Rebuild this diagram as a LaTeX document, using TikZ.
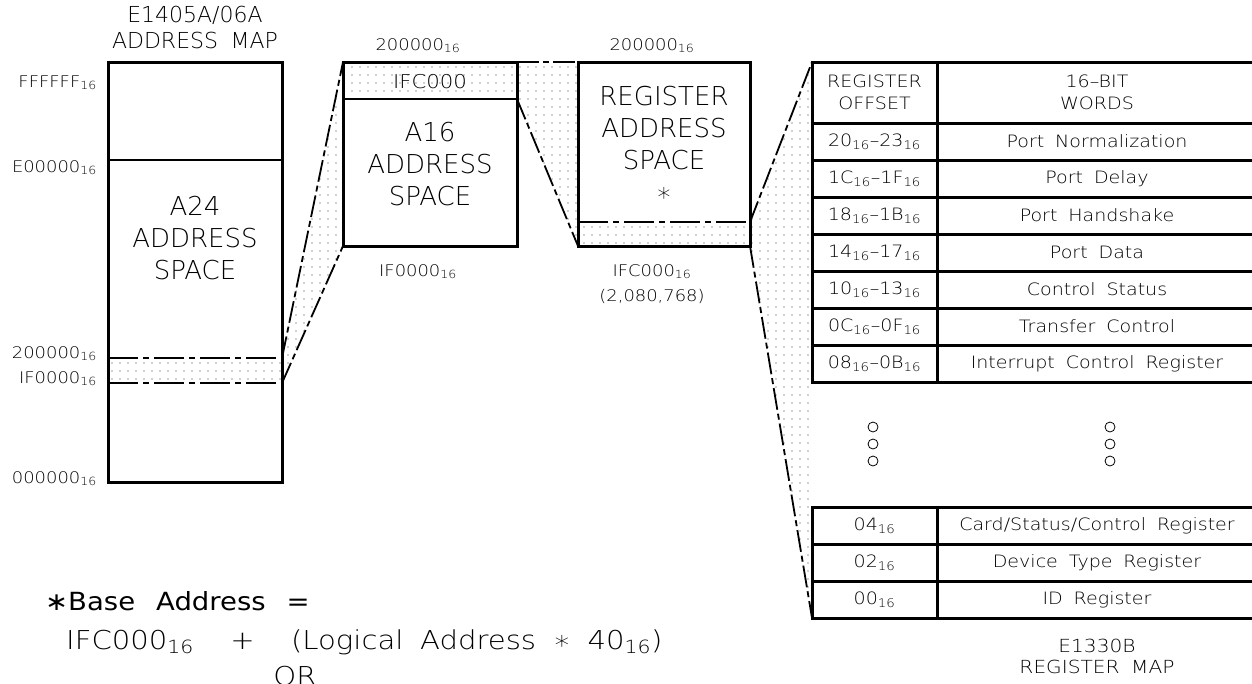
\documentclass[tikz,border=0pt]{standalone}
\usepackage{fontspec}
\setmainfont{DejaVu Sans}[UprightFont={* ExtraLight}, FakeStretch=1.12, WordSpace=1.8]
\newfontfamily\bigfont{DejaVu Sans}[UprightFont={* ExtraLight}, WordSpace=1.8]
\newfontfamily\notefont{DejaVu Sans}[FakeStretch=1.1, WordSpace=2.4]
\usetikzlibrary{patterns.meta,backgrounds}

\newcommand{\hexnum}[1]{#1\textsubscript{16}}

\tikzset{
  mapbox/.style={draw, line width=3pt, inner sep=0pt, outer sep=0pt},
  biglabel/.style={font=\bigfont\fontsize{26}{32}\selectfont, align=center},
  maptitle/.style={font=\bigfont\fontsize{22}{26}\selectfont, align=center},
  addr/.style={font=\fontsize{16}{19}\selectfont, inner sep=0pt},
  note/.style={font=\notefont\fontsize{25}{28}\selectfont, inner sep=0pt},
  formulanote/.style={font=\fontsize{26}{28}\selectfont, inner sep=0pt},
  bandfill/.style={pattern={Dots[distance=8pt,radius=0.65pt]}, pattern color=black!80},
  linkline/.style={line width=1.8pt, dash pattern=on 22pt off 4pt on 6pt off 4pt},
  bandrule/.style={line width=2.6pt, dash pattern=on 30pt off 5pt on 6pt off 5pt},
  thinrule/.style={line width=1.8pt},
  regcell/.style={draw, line width=3pt, inner sep=0pt, outer sep=0pt,
    minimum height=37pt, font=\fontsize{17}{20}\selectfont},
  offcell/.style={regcell, minimum width=125pt},
  wordcell/.style={regcell, minimum width=320pt},
  hdcell/.style={regcell, minimum height=61pt, align=center,
    font=\fontsize{17}{22}\selectfont}
}

\begin{document}
\begin{tikzpicture}[x=1pt, y=-1pt]
\useasboundingbox (0,0) rectangle (1252,683);
\clip (0,0) rectangle (1252,683);

% address spaces
\node[mapbox, minimum width=174pt, minimum height=420pt] (a24map) at (195,272) {};
\node[mapbox, minimum width=174pt, minimum height=184pt] (a16map) at (430,154) {};
\node[mapbox, minimum width=172pt, minimum height=184pt] (regspace) at (664,154) {};

\coordinate (a24hi) at (282,358);
\coordinate (a24lo) at (282,383);
\coordinate (a16split) at (517,99);
\coordinate (regband) at (750,222);

% register map table
\node[hdcell, minimum width=125pt, anchor=north west] (hdoff) at (812,62) {REGISTER\\OFFSET};
\node[hdcell, minimum width=320pt, anchor=west] (hdword) at (hdoff.east) {16--BIT\\WORDS};
\foreach \off/\wrd [count=\i] in {
    {\hexnum{20}--\hexnum{23}}/{Port Normalization},
    {\hexnum{1C}--\hexnum{1F}}/{Port Delay},
    {\hexnum{18}--\hexnum{1B}}/{Port Handshake},
    {\hexnum{14}--\hexnum{17}}/{Port Data},
    {\hexnum{10}--\hexnum{13}}/{Control Status},
    {\hexnum{0C}--\hexnum{0F}}/{Transfer Control},
    {\hexnum{08}--\hexnum{0B}}/{Interrupt Control Register}}{
  \node[offcell, anchor=north west] (off\i) at (812,{123+37*(\i-1)}) {\off};
  \node[wordcell, anchor=west] (wrd\i) at (off\i.east) {\wrd};
}
\foreach \off/\wrd [count=\i] in {
    {\hexnum{04}}/{Card/Status/Control Register},
    {\hexnum{02}}/{Device Type Register},
    {\hexnum{00}}/{ID Register}}{
  \node[offcell, anchor=north west] (loff\i) at (812,{507+37*(\i-1)}) {\off};
  \node[wordcell, anchor=west] (lwrd\i) at (loff\i.east) {\wrd};
}

% dotted bands
\begin{scope}[on background layer]
\fill[bandfill] (a24hi) -- (a16map.north west) -- (a16map.south west) -- (a24lo) -- cycle;
\fill[bandfill] (a24map.west |- a24hi) rectangle (a24lo);
\fill[bandfill] (a16map.north west) rectangle (a16split);
\fill[bandfill] (a16map.north east) -- (regspace.north west) -- (regspace.south west) -- (a16split) -- cycle;
\fill[bandfill] (regspace.west |- regband) rectangle (regspace.south east);
\fill[bandfill] (regband) -- (hdoff.north west) -- (loff3.south west) -- (regspace.south east) -- cycle;
\end{scope}

% rules inside the boxes
\draw[thinrule] (a24map.west |- 0,160) -- (a24map.east |- 0,160);
\draw[bandrule] (a24map.west |- a24hi) -- (a24hi);
\draw[bandrule] (a24map.west |- a24lo) -- (a24lo);
\draw[thinrule] (a16map.west |- a16split) -- (a16split);
\draw[bandrule] (regspace.west |- regband) -- (regband);

% connectors
\draw[linkline] (a24hi) -- (a16map.north west);
\draw[linkline] (a24lo) -- (a16map.south west);
\draw[linkline] (a16map.north east) -- (regspace.north west);
\draw[linkline] (a16split) -- (regspace.south west);
\draw[linkline] (regband) -- (hdoff.north west);
\draw[linkline] (regspace.south east) -- (loff3.south west);

% continuation marks
\foreach \cx in {873,1110}
  \foreach \cy in {427,444,461}
    \draw[line width=0.8pt] (\cx,\cy) circle (5pt);

% labels
\node[maptitle] (a24title) at (195,27) {E1405A/06A\\ADDRESS MAP};
\node[biglabel] (a24text) at (195,238) {A24\\ADDRESS\\SPACE};
\node[biglabel] (a16text) at (430,164) {A16\\ADDRESS\\SPACE};
\node[biglabel] (regtext) at (664,144) {REGISTER\\ADDRESS\\SPACE\\∗};
\node[font=\fontsize{19}{22}\selectfont] (a16base) at (430,82) {IFC000};

\node[addr, anchor=base east] (lblf) at (97,87) {\hexnum{FFFFFF}};
\node[addr, anchor=base east] (lble) at (97,172) {\hexnum{E00000}};
\node[addr, anchor=base east] (lbltwo) at (97,358) {\hexnum{200000}};
\node[addr, anchor=base east] (lblone) at (97,383) {\hexnum{IF0000}};
\node[addr, anchor=base east] (lblzero) at (97,483) {\hexnum{000000}};

\node[addr, anchor=base] (a16top) at (418,50) {\hexnum{200000}};
\node[addr, anchor=base] (a16bot) at (418,276) {\hexnum{IF0000}};
\node[addr, anchor=base] (regtop) at (652,50) {\hexnum{200000}};
\node[addr, anchor=base] (regbot) at (652,276) {\hexnum{IFC000}};
\node[addr, anchor=base] (regdec) at (652,301) {(2,080,768)};

\node[addr, font=\fontsize{18}{21}\selectfont, align=center] (tbltitle) at (1097,656) {E1330B\\REGISTER MAP};

\node[note, anchor=base west] (basenote) at (45,610) {∗Base Address =};
\node[formulanote, anchor=base west] (formula) at (66,649) {\hexnum{IFC000}\hspace{1.4em}+\hspace{1.4em}(Logical Address ∗ \hexnum{40})};
\node[formulanote, anchor=base] (ornote) at (295,685) {OR};

\end{tikzpicture}
\end{document}
